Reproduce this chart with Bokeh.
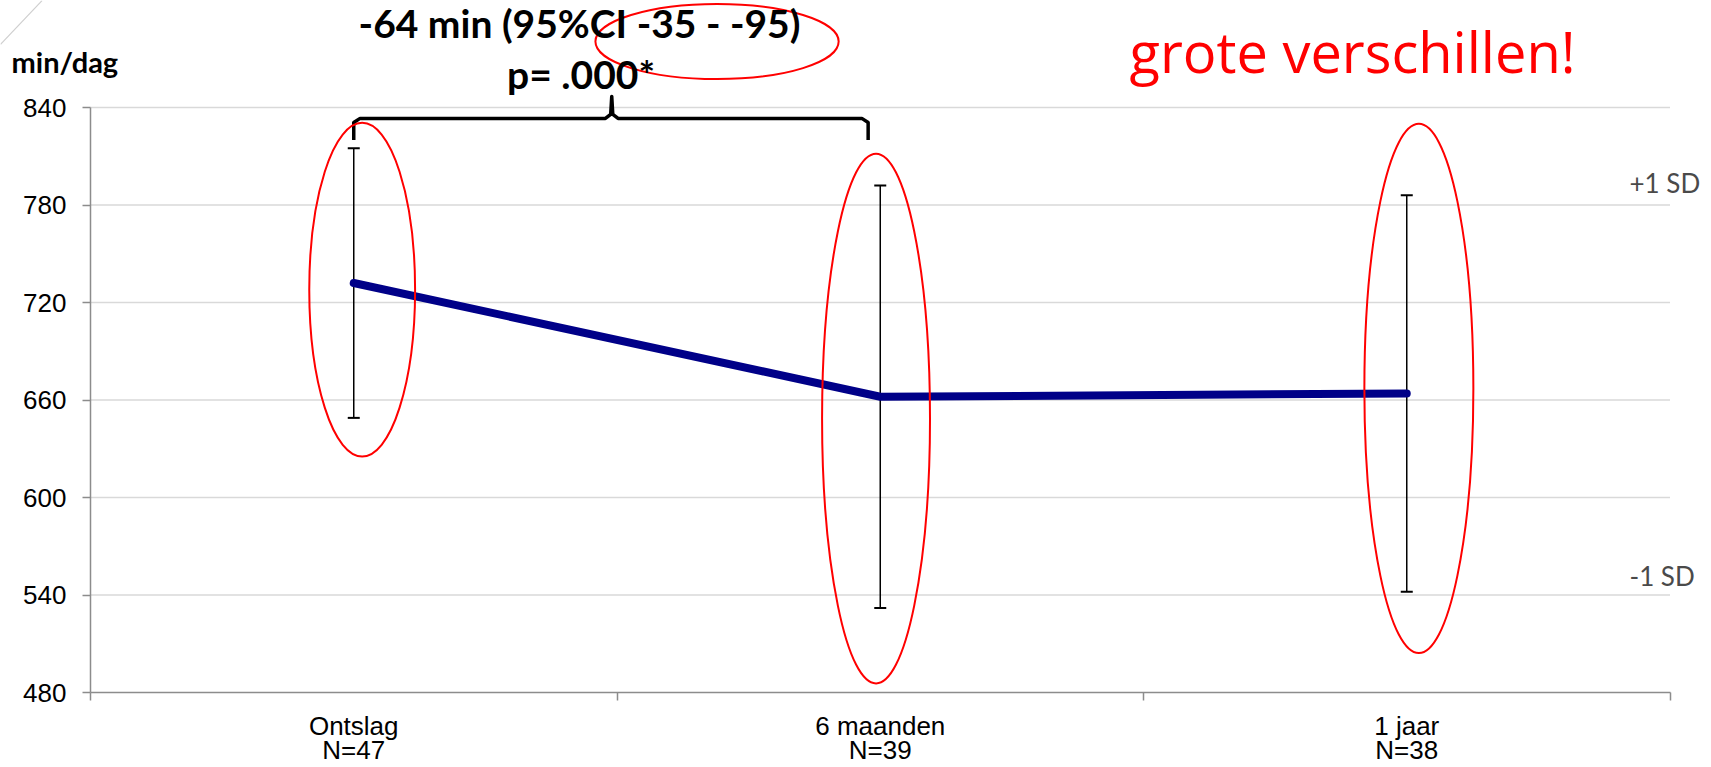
from bokeh.plotting import figure
from bokeh.models import FixedTicker, LinearAxis, Range1d
from bokeh.core.properties import value
from bokeh.embed import file_html
from bokeh.resources import INLINE

# ---- data ----
categories = ["Ontslag", "6 maanden", "1 jaar"]
n_labels = ["N=47", "N=39", "N=38"]
means = [732, 662, 664]
upper = [815, 792, 786]
lower = [649, 532, 542]
y_ticks = [480, 540, 600, 660, 720, 780, 840]

x_pos = [i + 0.5 for i in range(len(categories))]
x_bounds = [0, 1, 2, 3]

# annotation ellipses (x, y, width, height) in data units
ell_x = [0.516, 1.492, 2.523, 1.190]
ell_y = [727.9, 648.6, 667.1, 880.6]
ell_w = [0.201, 0.205, 0.207, 0.462]
ell_h = [205.5, 326.3, 325.7, 46.3]

W, H = 1711, 767
p = figure(width=W, height=H, output_backend="svg", toolbar_location=None,
           x_range=Range1d(-0.17094, 3.0788), y_range=Range1d(433.85, 905.85),
           min_border_left=0, min_border_right=0, min_border_top=0,
           min_border_bottom=0, x_axis_type=None, y_axis_type=None)
p.outline_line_color = None
p.background_fill_color = "white"
p.border_fill_color = "white"

# y axis (placed at x = 0)
yaxis = LinearAxis(ticker=FixedTicker(ticks=y_ticks), bounds=(480, 840), fixed_location=0)
yaxis.major_tick_out = 8
yaxis.major_tick_in = 0
yaxis.minor_tick_out = 0
yaxis.minor_tick_in = 0
yaxis.axis_line_color = "#8c8c8c"
yaxis.axis_line_width = 1.5
yaxis.major_tick_line_color = "#8c8c8c"
yaxis.major_tick_line_width = 1.5
yaxis.major_label_text_font = "Liberation Sans"
yaxis.major_label_text_font_size = "26px"
yaxis.major_label_text_color = "#000000"
yaxis.major_label_standoff = 16
p.add_layout(yaxis, "left")

# x axis (placed at y = 480)
xaxis = LinearAxis(ticker=FixedTicker(ticks=x_pos, minor_ticks=x_bounds), bounds=(0, 3),
                   fixed_location=480)
xaxis.major_label_overrides = {x: f"{c}\n{n}" for x, c, n in zip(x_pos, categories, n_labels)}
xaxis.major_tick_out = 0
xaxis.major_tick_in = 0
xaxis.minor_tick_out = 8
xaxis.minor_tick_in = 0
xaxis.axis_line_color = "#8c8c8c"
xaxis.axis_line_width = 1.5
xaxis.minor_tick_line_color = "#8c8c8c"
xaxis.minor_tick_line_width = 1.5
xaxis.major_label_text_font = "Liberation Sans"
xaxis.major_label_text_font_size = "26px"
xaxis.major_label_text_color = "#000000"
xaxis.major_label_text_line_height = 0.82
xaxis.major_label_standoff = 10
p.add_layout(xaxis, "below")

# gridlines
grid_y = y_ticks[1:]
p.segment(x0=[x_bounds[0]] * len(grid_y), y0=grid_y, x1=[x_bounds[-1]] * len(grid_y), y1=grid_y,
          line_color="#d9d9d9", line_width=1.5)

# faint slide decoration in the top-left corner
p.line(x=[-0.1709, -0.0921], y=[878.8, 905.8], line_color="#cfcfcf", line_width=1.2)

# error bars
p.segment(x0=x_pos, y0=lower, x1=x_pos, y1=upper, line_color="black", line_width=1.5)
p.scatter(x=x_pos + x_pos, y=upper + lower, marker="dash", size=12,
          line_color="black", line_width=2)

# mean line
p.line(x=x_pos, y=means, line_color="#000088", line_width=8, line_cap="round", line_join="round")

# bracket
bl, br, bm = x_pos[0], x_pos[1] - 0.023, 0.99
by0, by1, bpk = 820, 833.3, 846.8
bx = [bl, bl, bl + 0.012, bm - 0.012, bm - 0.002, bm, bm + 0.002, bm + 0.012, br - 0.012, br, br]
bys = [by0, by1 - 2.5, by1, by1, by1 + 2.5, bpk, by1 + 2.5, by1, by1, by1 - 2.5, by0]
p.line(x=bx, y=bys, line_color="black", line_width=3.5, line_join="round", line_cap="butt")

# red ellipses
p.ellipse(x=ell_x, y=ell_y, width=ell_w, height=ell_h, fill_color=None,
          line_color="#ff0000", line_width=2)

# texts
p.text(x=[0.9288, 0.9316], y=[891.8, 860.6], text=["-64 min (95%CI -35 - -95)", "p= .000*"],
       text_font=value("Lato"), text_font_style="bold", text_font_size="39px",
       text_align="center", text_baseline="alphabetic", text_color="black")
p.text(x=[-0.150], y=[868.6], text=["min/dag"], text_font=value("Lato"), text_font_style="bold",
       text_font_size="29px", text_align="left", text_baseline="alphabetic", text_color="black")
p.text(x=[1.9734], y=[875.0], text=["grote verschillen!"], text_font=value("Open Sans"),
       text_font_size="56px", text_align="left", text_baseline="alphabetic", text_color="#ff0000")
p.text(x=[2.923, 2.923], y=[793.4, 551.8], text=["+1 SD", "-1 SD"], text_font=value("Lato"),
       text_font_size="26px", text_align="left", text_baseline="alphabetic", text_color="#4a4a4a")

open("out.html", "w").write(file_html(p, INLINE))
